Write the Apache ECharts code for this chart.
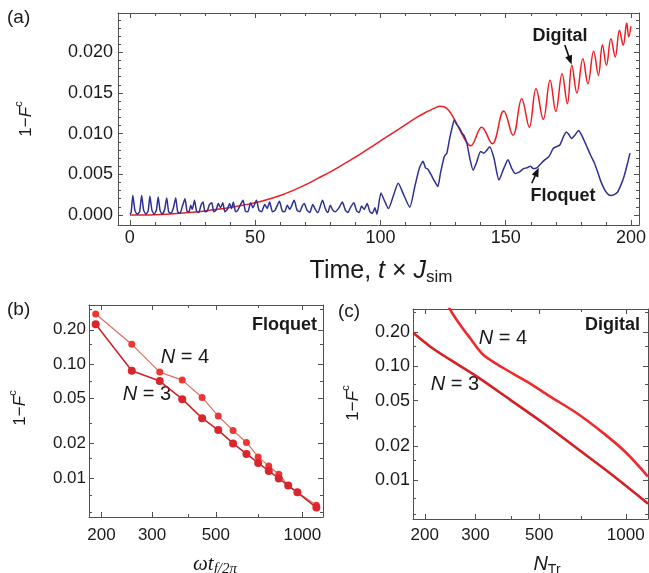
<!DOCTYPE html>
<html><head><meta charset="utf-8">
<script src="https://cdn.jsdelivr.net/npm/echarts@6/dist/echarts.min.js"></script>
<style>html,body{margin:0;padding:0;background:#fff}#c{width:649px;height:573px}</style>
</head><body><div id="c"></div>
<script>
// ---------- Panel (a): 1-F^c vs time ----------
const digital = [
[0,0],[5,0.00001],[10,0.00004],[15,0.0001],[20,0.0002],[25,0.00033],[30,0.0005],[35,0.0007],[40,0.00093],[45,0.0012],
[50,0.0015],[55,0.0019],[60,0.0024],[65,0.003],[70,0.0037],[75,0.0045],[80,0.0053],[85,0.0062],[90,0.0071],[95,0.0081],
[100,0.0091],[105,0.0101],[110,0.0111],[115,0.0121],[118,0.0126],[120,0.0129],[122,0.0132],[123.8,0.01338],[125.3,0.0133],
[126.8,0.0130],[128.3,0.0124],[129.8,0.0116],[131.3,0.0107],[132.8,0.0098],[134.3,0.0090],[136,0.0085],
[140.4,0.0108],[144.6,0.00877],[149.2,0.01278],[152.9,0.0098],[156.4,0.0143],[159.4,0.0108],[162.1,0.01552],[165,0.01176],
[167.7,0.01655],[170,0.01274],[172.5,0.01737],[174.6,0.01368],[176.4,0.0184],[178.4,0.0150],[180.8,0.01921],[182.8,0.01614],
[185.1,0.02012],[187,0.01717],[188.6,0.02093],[190.2,0.0184],[192,0.02167],[193.7,0.01942],[195.4,0.0227],[196.9,0.02086],
[198.3,0.0236],[199.1,0.0219],[200,0.0232]
];
const floquet = [
[0,0.0001],[0.5,0.0003],[1.2,0.0024],[2,0.0006],[2.9,0.0001],[3.9,0.0004],[4.7,0.0024],[5.5,0.0006],[6.4,0.0001],[7.3,0.0005],
[8.0,0.0023],[8.8,0.0006],[9.7,0.0001],[10.6,0.0006],[11.3,0.0022],[12.1,0.0005],[13,0.0001],[13.9,0.0007],[14.7,0.0021],[15.5,0.0004],
[16.4,0.0002],[17.4,0.0009],[18.3,0.0021],[19.1,0.0004],[20,0.0002],[21,0.0011],[22,0.002],[22.8,0.0005],[23.6,0.0004],[24.3,0.0012],
[24.9,0.0007],[25.8,0.0018],[26.6,0.0005],[27.5,0.0003],[28.4,0.0012],[29.2,0.0016],[30,0.0004],[30.9,0.0005],[31.8,0.0013],[32.7,0.0015],
[33.5,0.0004],[34.4,0.0006],[35.3,0.0014],[36.2,0.0009],[37.1,0.0015],[37.9,0.0004],[38.9,0.0007],[39.8,0.0014],[40.6,0.0008],[41.3,0.0016],
[42.2,0.0004],[43.1,0.0006],[44.2,0.0013],[45.2,0.0018],[46.1,0.0005],[47.1,0.0004],[48.2,0.0015],[49.1,0.0009],[50.5,0.0018],[51.5,0.0006],
[52.6,0.0004],[53.8,0.0013],[54.8,0.0008],[55.8,0.0016],[56.9,0.0004],[58,0.0006],[59.7,0.0017],[60.8,0.0005],[61.8,0.0004],[62.8,0.0012],
[63.8,0.0007],[65.6,0.0018],[66.7,0.0006],[67.8,0.0004],[68.8,0.0011],[69.6,0.0014],[70.7,0.0006],[71.8,0.0003],[73,0.0013],[74,0.0007],
[75,0.0003],[76.9,0.0018],[78,0.0008],[79,0.0003],[80,0.0012],[81,0.0006],[82,0.0004],[83.5,0.0009],[84.8,0.0016],[86,0.0006],
[87,0.0003],[88,0.0009],[89.4,0.0015],[90.5,0.0005],[91.5,0.0003],[92.5,0.0011],[93.5,0.0007],[94.7,0.0014],[95.8,0.0004],[96.8,0.0002],
[97.8,0.0009],[98.6,0.0001],[100.2,0.0027],[101.7,0.0017],[103.2,0.0008],[105.2,0.0024],[107.1,0.0039],[109.4,0.0024],[111.7,0.00095],
[113.8,0.0036],[115.6,0.0058],[117,0.0066],[118,0.0058],[119,0.0056],[120.3,0.0049],[121.5,0.0042],[122.9,0.0035],[124,0.0052],
[125.5,0.0072],[126.5,0.0076],[127.5,0.0092],[128.5,0.0106],[129.5,0.0117],[130.3,0.0112],[131.5,0.0107],[132.5,0.0101],[133.5,0.0097],
[134.5,0.0088],[135.8,0.0068],[137,0.0055],[138.3,0.0064],[140,0.0078],[141.3,0.0076],[142.3,0.0079],[143.6,0.0084],[145.3,0.007],
[147.3,0.0043],[149.2,0.0057],[150.9,0.0068],[152.3,0.0058],[153.8,0.0051],[155.5,0.0053],[157.1,0.0057],[158.5,0.0058],[159.8,0.006],
[161,0.0057],[162.4,0.0058],[164,0.0063],[165.7,0.0068],[167.3,0.0072],[169,0.0082],[170.3,0.0084],[171.6,0.0086],[173,0.0096],
[174.2,0.0102],[175.2,0.0099],[176.2,0.0094],[177.6,0.0098],[179.1,0.0104],[180.5,0.0097],[182.1,0.0086],[183.8,0.0074],[185.4,0.0064],
[186.8,0.0052],[188,0.0041],[189.5,0.0031],[191,0.0025],[192,0.0024],[193.3,0.0025],[194.6,0.0028],[196,0.0037],[197.2,0.0047],
[198.5,0.0062],[199.6,0.0076]
];
const aXTicks = [0,50,100,150,200];
const aXMinor = [10,20,30,40,60,70,80,90,110,120,130,140,160,170,180,190];
const aYTicks = [0,0.005,0.01,0.015,0.02];
const aYMinor = [0.001,0.002,0.003,0.004,0.006,0.007,0.008,0.009,0.011,0.012,0.013,0.014,0.016,0.017,0.018,0.019,0.021,0.022,0.023,0.024];
// annotation arrows (data coordinates: tail, tip)
const digitalArrow = [[173.6,0.0209],[176.3,0.0185]];
const floquetArrow = [[160.4,0.0039],[163.2,0.0058]];

// ---------- Panel (b): Floquet ----------
const bPeriods = [191,255,319,382,448,510,574,639,702,764,828,893,961,1119];
const bN4 = [0.275,0.149,0.085,0.0723,0.0509,0.0349,0.0261,0.0205,0.0153,0.01276,0.01079,0.00857,0.00748,0.00575];
const bN3 = [0.2235,0.0873,0.0709,0.0492,0.0335,0.0263,0.0201,0.01626,0.01355,0.01153,0.00989,0.00857,0.00748,0.00549];

// ---------- Panel (c): Digital ----------
const cN3 = [[182.6,0.196],[208.6,0.1497],[244.9,0.1145],[303,0.0817],[395.6,0.0511],[516.4,0.0319],[674.4,0.0192],[879.6,0.0116],[1195,0.00625]];
const cN4 = [[236,0.42],[243.5,0.325],[265.3,0.232],[287.3,0.1775],[319.5,0.1266],[375,0.0968],[452,0.0738],[544.6,0.0546],[674.4,0.039],[834,0.0261],[1005.6,0.0174],[1195,0.0108]];

const logXTicks = [200,300,500,1000];
const logXMinor = [400,700];
const logYTicks = [0.01,0.02,0.05,0.1,0.2];
const logYMinor = [0.005,0.007,0.015,0.03,0.07,0.15,0.3];

// ---------- build ----------
const FONT = 'Liberation Sans';
const FRAME = '#505050';
function axesFor(dim, grid, type, min, max, majors, minors, label) {
  const pos = dim === 'x' ? ['bottom','top'] : ['left','right'];
  const out = [];
  pos.forEach((p, i) => {
    const base = {gridIndex: grid, type: type, min: min, max: max, position: p, splitLine: {show: false}};
    if (type === 'log') base.logBase = 10;
    out.push(Object.assign({}, base, {
      axisLine: {show: true, onZero: false, lineStyle: {color: FRAME, width: 1}},
      axisTick: {show: true, inside: true, length: 5, customValues: majors, lineStyle: {color: FRAME, width: 1}},
      axisLabel: i === 0 ? Object.assign({show: true, customValues: majors, color: '#1a1a1a', fontFamily: FONT}, label) : {show: false}
    }));
    out.push(Object.assign({}, base, {
      axisLine: {show: false, onZero: false},
      axisTick: {show: true, inside: true, length: 3, customValues: minors, lineStyle: {color: FRAME, width: 1}},
      axisLabel: {show: false}
    }));
  });
  return out;
}
const fmtInt = v => String(Math.round(v));
const xAxes = [].concat(
  axesFor('x', 0, 'value', -4.73, 203.2, aXTicks, aXMinor, {fontSize: 18, margin: 4, formatter: fmtInt}),
  axesFor('x', 1, 'log', 181, 1180, logXTicks, logXMinor, {fontSize: 17, margin: 10, formatter: fmtInt}),
  axesFor('x', 2, 'log', 182, 1195, logXTicks, logXMinor, {fontSize: 17, margin: 8, formatter: fmtInt})
);
const yAxes = [].concat(
  axesFor('y', 0, 'value', -0.00123, 0.02483, aYTicks, aYMinor, {fontSize: 18, margin: 5, formatter: v => v.toFixed(3)}),
  axesFor('y', 1, 'log', 0.00454, 0.33, logYTicks, logYMinor, {fontSize: 17, margin: 3, formatter: v => v.toFixed(2)}),
  axesFor('y', 2, 'log', 0.00458, 0.319, logYTicks, logYMinor, {fontSize: 18, margin: 3, formatter: v => v.toFixed(2)})
);

const series = [
  {type: 'line', name: 'Digital', xAxisIndex: 0, yAxisIndex: 0, data: digital, showSymbol: false, smooth: 0.4,
   lineStyle: {color: '#ee1d23', width: 1.5}},
  {type: 'line', name: 'Floquet', xAxisIndex: 0, yAxisIndex: 0, data: floquet, showSymbol: false, smooth: 0.2,
   lineStyle: {color: '#2e3192', width: 1.5}},
  {type: 'line', name: 'bN4', xAxisIndex: 4, yAxisIndex: 4, data: bPeriods.map((x, i) => [x, bN4[i]]),
   symbol: 'circle', symbolSize: 7, lineStyle: {color: '#d9735f', width: 1.2}, itemStyle: {color: '#ee3535'}},
  {type: 'line', name: 'bN3', xAxisIndex: 4, yAxisIndex: 4, data: bPeriods.map((x, i) => [x, bN3[i]]),
   symbol: 'circle', symbolSize: 8, lineStyle: {color: '#cf2027', width: 1.5}, itemStyle: {color: '#d8262c'}},
  {type: 'line', name: 'cN3', xAxisIndex: 8, yAxisIndex: 8, data: cN3, showSymbol: false, smooth: 0.3,
   lineStyle: {color: '#d42027', width: 2.6}},
  {type: 'line', name: 'cN4', xAxisIndex: 8, yAxisIndex: 8, data: cN4, showSymbol: false, smooth: 0.3,
   lineStyle: {color: '#ee2a2e', width: 2.6}}
];

const T = '#1a1a1a';
const fRich = {
  n: {fontFamily: FONT, fontSize: 17, fill: T, color: T, lineHeight: 26},
  i: {fontFamily: FONT, fontSize: 17, fontStyle: 'italic', fill: T, color: T, lineHeight: 26},
  s: {fontFamily: FONT, fontSize: 11, fill: T, color: T, verticalAlign: 'top'}
};
function txt(x, y, text, font, align) {
  return {type: 'text', x: x, y: y, silent: true,
    style: {text: text, font: font, fill: T, align: align || 'left', verticalAlign: 'middle',
            textAlign: align || 'left', textVerticalAlign: 'middle'}};
}
function richTxt(x, y, text, richDef, align, rotation) {
  const el = {type: 'text', x: x, y: y, silent: true,
    style: {text: text, rich: richDef, fill: T, align: align || 'center', verticalAlign: 'middle',
            textAlign: align || 'center', textVerticalAlign: 'middle', font: '17px ' + FONT}};
  if (rotation) el.rotation = rotation;
  return el;
}
const nRich = {
  i: {fontFamily: FONT, fontSize: 20, fontStyle: 'italic', fill: T, color: T},
  n: {fontFamily: FONT, fontSize: 20, fill: T, color: T}
};
const timeRich = {
  n: {fontFamily: FONT, fontSize: 25, fill: T, color: T, lineHeight: 30},
  i: {fontFamily: FONT, fontSize: 25, fontStyle: 'italic', fill: T, color: T, lineHeight: 30},
  s: {fontFamily: FONT, fontSize: 17, fill: T, color: T, verticalAlign: 'bottom'}
};
const omegaRich = {
  i: {fontFamily: 'Liberation Serif', fontSize: 21, fontStyle: 'italic', fill: T, color: T, lineHeight: 26},
  s: {fontFamily: 'Liberation Serif', fontSize: 15, fontStyle: 'italic', fill: T, color: T, verticalAlign: 'bottom'}
};
const ntrRich = {
  i: {fontFamily: FONT, fontSize: 20, fontStyle: 'italic', fill: T, color: T, lineHeight: 26},
  s: {fontFamily: FONT, fontSize: 14, fill: T, color: T, verticalAlign: 'bottom'}
};

const graphic = [
  txt(7, 18, '(a)', '19px ' + FONT),
  txt(7, 310, '(b)', '19px ' + FONT),
  txt(338, 312, '(c)', '19px ' + FONT),
  txt(560, 36, 'Digital', 'bold 18px ' + FONT, 'center'),
  txt(563, 196, 'Floquet', 'bold 18px ' + FONT, 'center'),
  txt(317, 325, 'Floquet', 'bold 18px ' + FONT, 'right'),
  txt(640, 325, 'Digital', 'bold 18px ' + FONT, 'right'),
  richTxt(185, 357, '{i|N}{n| = 4}', nRich),
  richTxt(147, 394, '{i|N}{n| = 3}', nRich),
  richTxt(503, 338, '{i|N}{n| = 4}', nRich),
  richTxt(455, 384, '{i|N}{n| = 3}', nRich),
  richTxt(26, 119, '{n|1−}{i|F}{s|c}', fRich, 'center', Math.PI / 2),
  richTxt(20, 408, '{n|1−}{i|F}{s|c}', fRich, 'center', Math.PI / 2),
  richTxt(353, 403, '{n|1−}{i|F}{s|c}', fRich, 'center', Math.PI / 2),
  richTxt(381, 271, '{n|Time, }{i|t}{n| × }{i|J}{s|sim}', timeRich),
  richTxt(215, 564, '{i|ωt}{s|f/2π}', omegaRich),
  richTxt(547, 564, '{i|N}{s|Tr}', ntrRich)
];

const chart = echarts.init(document.getElementById('c'), null, {renderer: 'canvas'});
chart.setOption({
  animation: false,
  backgroundColor: '#fff',
  textStyle: {fontFamily: FONT},
  grid: [
    {left: 118, top: 13, width: 527, height: 212},
    {left: 89, top: 305, width: 234, height: 212},
    {left: 413, top: 309, width: 235, height: 210}
  ],
  xAxis: xAxes,
  yAxis: yAxes,
  series: series,
  graphic: graphic
});

// arrows: positioned from data coordinates through the panel (a) axes
function arrowGraphics(pts) {
  const a = chart.convertToPixel({xAxisIndex: 0, yAxisIndex: 0}, pts[0]);
  const b = chart.convertToPixel({xAxisIndex: 0, yAxisIndex: 0}, pts[1]);
  const dx = b[0] - a[0], dy = b[1] - a[1];
  const L = Math.sqrt(dx * dx + dy * dy);
  const ux = dx / L, uy = dy / L, nx = -uy, ny = ux;
  const hl = 9, hw = 3.6;
  const bx = b[0] - ux * hl, by = b[1] - uy * hl;
  return [
    {type: 'line', silent: true, shape: {x1: a[0], y1: a[1], x2: bx + ux * 2, y2: by + uy * 2},
     style: {stroke: '#111', lineWidth: 1.6}},
    {type: 'polygon', silent: true,
     shape: {points: [[b[0], b[1]], [bx + nx * hw, by + ny * hw], [bx - nx * hw, by - ny * hw]]},
     style: {fill: '#111'}}
  ];
}
chart.setOption({graphic: graphic.concat(arrowGraphics(digitalArrow), arrowGraphics(floquetArrow))});
</script>
</body></html>
